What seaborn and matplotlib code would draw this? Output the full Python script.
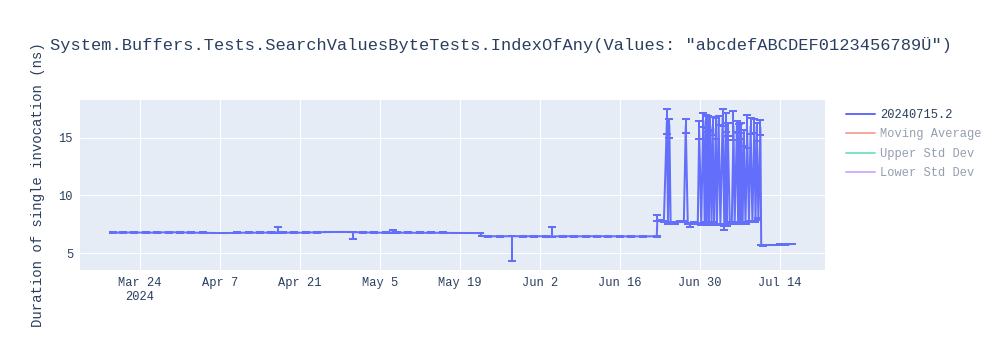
import matplotlib
matplotlib.use("Agg")
import matplotlib.pyplot as plt
from matplotlib.lines import Line2D
import pandas as pd
import seaborn as sns

TITLE = 'System.Buffers.Tests.SearchValuesByteTests.IndexOfAny(Values: "abcdefABCDEF0123456789Ü")'
Y_LABEL = "Duration of single invocation (ns)"
SERIES_NAME = "20240715.2"
HIDDEN_SERIES = ["Moving Average", "Upper Std Dev", "Lower Std Dev"]
HIDDEN_COLORS = ["#EF553B", "#00cc96", "#ab63fa"]

# Steady period, March to late May
spring_dates = ["2024-03-19 08:00", "2024-03-21", "2024-03-23", "2024-03-25", "2024-03-27",
                "2024-03-29", "2024-03-31", "2024-04-02", "2024-04-04", "2024-04-06",
                "2024-04-08", "2024-04-10", "2024-04-12", "2024-04-14", "2024-04-16",
                "2024-04-17 02:00", "2024-04-18", "2024-04-20", "2024-04-22", "2024-04-24",
                "2024-04-26", "2024-04-28", "2024-04-30 06:00", "2024-05-02", "2024-05-04",
                "2024-05-06", "2024-05-07 05:00", "2024-05-08", "2024-05-10", "2024-05-12",
                "2024-05-14", "2024-05-16", "2024-05-18", "2024-05-20", "2024-05-22 12:00"]
spring_values = [6.78, 6.77, 6.79, 6.76, 6.78, 6.80, 6.79, 6.77, 6.75, 6.74,
                 6.73, 6.75, 6.77, 6.76, 6.78, 6.80, 6.78, 6.76, 6.77, 6.80,
                 6.82, 6.83, 6.81, 6.79, 6.77, 6.76, 6.78, 6.77, 6.76, 6.75,
                 6.76, 6.75, 6.74, 6.74, 6.73]
spring_err_low = [0.03] * 22 + [0.58] + [0.03] * 12
spring_err_high = [0.03] * 15 + [0.42] + [0.03] * 10 + [0.22] + [0.03] * 8

# Lower plateau, late May to late June
june_dates = ["2024-05-22 20:00", "2024-05-24", "2024-05-26", "2024-05-28 05:00", "2024-05-30",
              "2024-06-01", "2024-06-03", "2024-06-04 05:00", "2024-06-06", "2024-06-08",
              "2024-06-10", "2024-06-12", "2024-06-14", "2024-06-16", "2024-06-18",
              "2024-06-20", "2024-06-22 11:00"]
june_values = [6.47, 6.46, 6.45, 6.46, 6.45, 6.46, 6.45, 6.44, 6.46, 6.45,
               6.45, 6.46, 6.45, 6.45, 6.44, 6.45, 6.45]
june_err_low = [0.03] * 3 + [2.16] + [0.03] * 13
june_err_high = [0.03] * 7 + [0.80] + [0.03] * 9

# Bimodal runs, late June to mid July
summer_dates = ["2024-06-22 13:40", "2024-06-23 00:00", "2024-06-23 17:00", "2024-06-24 05:30",
                "2024-06-24 10:30", "2024-06-24 16:00", "2024-06-24 21:30", "2024-06-25 14:30",
                "2024-06-26 12:00", "2024-06-27 05:00", "2024-06-27 13:00", "2024-06-27 21:30",
                "2024-06-28 06:00", "2024-06-28 23:00", "2024-06-29 15:30", "2024-06-29 21:30",
                "2024-06-30 06:00", "2024-06-30 14:30", "2024-06-30 20:30", "2024-07-01 01:00",
                "2024-07-01 05:00", "2024-07-01 09:30", "2024-07-01 14:30", "2024-07-01 19:00",
                "2024-07-02 01:30", "2024-07-02 06:00", "2024-07-02 12:00", "2024-07-02 19:00",
                "2024-07-03 00:00", "2024-07-03 07:00", "2024-07-03 14:30", "2024-07-04 00:00",
                "2024-07-04 07:00", "2024-07-04 13:00", "2024-07-04 17:00", "2024-07-04 21:30",
                "2024-07-05 06:00", "2024-07-05 14:30", "2024-07-05 21:30", "2024-07-06 02:30",
                "2024-07-06 12:00", "2024-07-06 17:00", "2024-07-06 21:30", "2024-07-07 02:30",
                "2024-07-07 06:00", "2024-07-07 12:00", "2024-07-07 17:00", "2024-07-08 00:00",
                "2024-07-08 07:00", "2024-07-08 14:30", "2024-07-08 21:30", "2024-07-09 05:00",
                "2024-07-09 13:00", "2024-07-09 18:00", "2024-07-10 00:00", "2024-07-10 06:00",
                "2024-07-10 14:30"]
summer_values = [7.85, 7.85, 7.70, 16.3,
                 7.60, 16.1, 7.55, 7.60,
                 7.70, 7.75, 16.0, 7.55,
                 7.45, 7.60, 7.55, 15.7,
                 7.50, 16.5, 7.60, 16.4,
                 7.55, 16.2, 7.50, 16.3,
                 7.60, 16.0, 7.55, 15.8,
                 7.50, 16.5, 7.45, 16.7,
                 7.30, 16.3, 7.40, 15.7,
                 7.55, 7.60, 16.0, 7.55,
                 16.0, 7.60, 15.8, 7.60,
                 15.5, 7.65, 15.0, 7.60,
                 15.6, 7.70, 16.0, 7.70,
                 16.0, 7.75, 15.5, 7.95,
                 15.9]
summer_err_low = [0.05, 0.05, 0.05, 1.0,
                  0.05, 1.1, 0.05, 0.05,
                  0.05, 0.05, 0.6, 0.05,
                  0.20, 0.05, 0.05, 0.8,
                  0.05, 0.6, 0.05, 0.6,
                  0.05, 0.7, 0.05, 0.6,
                  0.05, 0.8, 0.05, 0.9,
                  0.05, 0.4, 0.05, 0.7,
                  0.30, 0.8, 0.05, 0.6,
                  0.05, 0.05, 1.2, 0.05,
                  0.5, 0.05, 0.4, 0.05,
                  0.6, 0.05, 0.7, 0.05,
                  1.5, 0.05, 0.7, 0.05,
                  0.6, 0.05, 0.8, 0.05,
                  0.65]
summer_err_high = [0.45, 0.05, 0.05, 1.2,
                   0.05, 0.5, 0.05, 0.05,
                   0.05, 0.05, 0.6, 0.05,
                   0.05, 0.05, 0.05, 0.75,
                   0.05, 0.6, 0.05, 0.6,
                   0.05, 0.7, 0.05, 0.5,
                   0.05, 0.8, 0.05, 0.9,
                   0.05, 0.4, 0.05, 0.75,
                   0.05, 0.8, 0.05, 0.6,
                   0.05, 0.05, 1.3, 0.05,
                   0.45, 0.05, 0.4, 0.05,
                   0.8, 0.05, 0.7, 0.05,
                   1.4, 0.05, 0.7, 0.05,
                   0.6, 0.05, 0.8, 0.05,
                   0.6]

# Faster runs after the fix, mid July
july_dates = ["2024-07-10 18:00", "2024-07-11", "2024-07-12", "2024-07-13",
              "2024-07-14", "2024-07-15", "2024-07-16 02:00"]
july_values = [5.70, 5.68, 5.70, 5.69, 5.71, 5.74, 5.78]
july_err_low = [0.03] * 7
july_err_high = [0.03] * 7

x_tick_dates = ["2024-03-24", "2024-04-07", "2024-04-21", "2024-05-05", "2024-05-19",
                "2024-06-02", "2024-06-16", "2024-06-30", "2024-07-14"]
x_tick_labels = ["Mar 24\n2024", "Apr 7", "Apr 21", "May 5", "May 19",
                 "Jun 2", "Jun 16", "Jun 30", "Jul 14"]
y_ticks = [5, 10, 15]

df = pd.DataFrame({
    "date": pd.to_datetime(spring_dates + june_dates + summer_dates + july_dates,
                           format="ISO8601"),
    "value": spring_values + june_values + summer_values + july_values,
    "err_low": spring_err_low + june_err_low + summer_err_low + july_err_low,
    "err_high": spring_err_high + june_err_high + summer_err_high + july_err_high,
})

TEXT = "#2a3f5f"
LINE = "#636efa"
PX = 0.72  # points per pixel at 100 dpi

sns.set_theme(style="darkgrid", rc={
    "axes.facecolor": "#E5ECF6",
    "grid.color": "white",
    "grid.linewidth": 1 * PX,
    "axes.edgecolor": "#E5ECF6",
})
plt.rcParams["font.family"] = ["Liberation Mono", "DejaVu Sans"]

fig = plt.figure(figsize=(10, 3.5), dpi=100)
ax = fig.add_axes([0.08, 80 / 350, 0.745, 170 / 350])

sns.lineplot(data=df, x="date", y="value", estimator=None, sort=False,
             color=LINE, linewidth=2 * PX, ax=ax, legend=False)
ax.errorbar(df["date"], df["value"], yerr=[df["err_low"], df["err_high"]],
            fmt="none", ecolor=LINE, elinewidth=2 * PX, capsize=3.2, capthick=2 * PX)

ax.set_xlim(pd.Timestamp("2024-03-13 12:00"), pd.Timestamp("2024-07-21 22:00"))
ax.set_ylim(3.53, 18.26)
ax.set_xticks(pd.to_datetime(x_tick_dates))
ax.set_xticklabels(x_tick_labels)
ax.set_yticks(y_ticks)
ax.set_yticklabels([str(v) for v in y_ticks])
ax.tick_params(axis="both", length=0, labelsize=12 * PX, labelcolor=TEXT)
ax.tick_params(axis="x", pad=5)
ax.tick_params(axis="y", pad=5)
for lbl in ax.get_xticklabels():
    lbl.set_linespacing(1.25)
ax.set_xlabel("")
ax.set_ylabel(Y_LABEL, fontsize=14 * PX, color=TEXT)
ax.yaxis.set_label_coords(-0.047, 0.5)
for s in ax.spines.values():
    s.set_visible(False)

fig.text(0.05, 1 - 45 / 350, TITLE, fontsize=16.95 * PX, color=TEXT, ha="left", va="center")

handles = [Line2D([], [], color=LINE, lw=2 * PX)]
handles += [Line2D([], [], color=c, lw=2 * PX, alpha=0.5) for c in HIDDEN_COLORS]
leg = fig.legend(handles, [SERIES_NAME] + HIDDEN_SERIES, loc="upper left",
                 bbox_to_anchor=(0.846, 1 - 109 / 350), frameon=False,
                 fontsize=12 * PX, handlelength=2.4, handletextpad=0.45,
                 labelspacing=0.62, borderpad=0, borderaxespad=0)
for i, t in enumerate(leg.get_texts()):
    t.set_color(TEXT)
    if i > 0:
        t.set_alpha(0.5)

fig.savefig("out.png", dpi=100, facecolor="white")
